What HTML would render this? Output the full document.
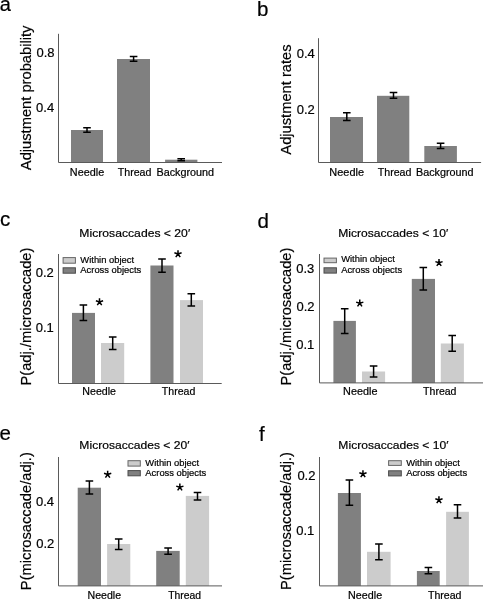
<!DOCTYPE html>
<html><head><meta charset="utf-8"><style>
html,body{margin:0;padding:0;background:#fff;width:483px;height:599px;overflow:hidden}
svg{display:block}
#w{width:483px;height:599px;will-change:transform}
text{font-family:"Liberation Sans", sans-serif;stroke:#000;stroke-width:0.2px}
</style></head><body><div id="w">
<svg width="483" height="599" viewBox="0 0 483 599">
<rect width="483" height="599" fill="#fff"/>
<text x="-0.30" y="11.40" font-size="20" fill="#000">a</text>
<text x="36.45" y="57.00" font-size="13" fill="#000">0.8</text>
<text x="36.12" y="112.00" font-size="13" fill="#000">0.4</text>
<text x="31.20" y="170.12" font-size="14.7" fill="#000" transform="rotate(-90 31.20 170.12)">Adjustment probability</text>
<rect x="71.00" y="130.00" width="32.00" height="32.50" fill="#808080"/>
<path d="M87 127.8V132.2M83.20 127.8H90.80M83.20 132.2H90.80" stroke="#000" stroke-width="1.5" fill="none"/>
<rect x="117.00" y="59.00" width="33.00" height="103.50" fill="#808080"/>
<path d="M133.6 56.5V61.2M129.80 56.5H137.40M129.80 61.2H137.40" stroke="#000" stroke-width="1.5" fill="none"/>
<rect x="165.10" y="159.70" width="32.30" height="2.80" fill="#808080"/>
<path d="M181.2 158.8V160.8M177.40 158.8H185.00M177.40 160.8H185.00" stroke="#000" stroke-width="1.5" fill="none"/>
<text x="69.88" y="176.00" font-size="10.3" textLength="34.34" lengthAdjust="spacingAndGlyphs">Needle</text>
<text x="117.74" y="176.00" font-size="10.3" textLength="33.74" lengthAdjust="spacingAndGlyphs">Thread</text>
<text x="156.49" y="176.00" font-size="10.3" textLength="57.59" lengthAdjust="spacingAndGlyphs">Background</text>
<text x="256.97" y="16.00" font-size="20.5" fill="#000">b</text>
<text x="296.72" y="58.00" font-size="13" fill="#000">0.4</text>
<text x="296.68" y="114.00" font-size="13" fill="#000">0.2</text>
<text x="290.90" y="154.62" font-size="14.7" fill="#000" transform="rotate(-90 290.90 154.62)">Adjustment rates</text>
<rect x="330.00" y="117.00" width="33.00" height="45.50" fill="#808080"/>
<path d="M346.8 112.8V120.5M343.00 112.8H350.60M343.00 120.5H350.60" stroke="#000" stroke-width="1.5" fill="none"/>
<rect x="377.00" y="95.80" width="32.30" height="66.70" fill="#808080"/>
<path d="M393.5 92.6V98.3M389.70 92.6H397.30M389.70 98.3H397.30" stroke="#000" stroke-width="1.5" fill="none"/>
<rect x="424.30" y="146.00" width="32.60" height="16.50" fill="#808080"/>
<path d="M440.6 143.3V148.5M436.80 143.3H444.40M436.80 148.5H444.40" stroke="#000" stroke-width="1.5" fill="none"/>
<text x="329.38" y="176.00" font-size="10.3" textLength="34.66" lengthAdjust="spacingAndGlyphs">Needle</text>
<text x="377.74" y="176.00" font-size="10.3" textLength="33.74" lengthAdjust="spacingAndGlyphs">Thread</text>
<text x="415.99" y="176.00" font-size="10.3" textLength="57.59" lengthAdjust="spacingAndGlyphs">Background</text>
<text x="0.08" y="225.50" font-size="20.5" fill="#000">c</text>
<text x="79.38" y="237.00" font-size="11.6" textLength="110.80" lengthAdjust="spacingAndGlyphs">Microsaccades &lt; 20′</text>
<text x="35.68" y="277.00" font-size="13" fill="#000">0.2</text>
<text x="35.68" y="332.00" font-size="13" fill="#000">0.1</text>
<text x="30.90" y="385.53" font-size="14.7" fill="#000" transform="rotate(-90 30.90 385.53)">P(adj./microsaccade)</text>
<rect x="63.10" y="257.60" width="12.30" height="5.60" fill="#cccccc" stroke="#666" stroke-width="1"/>
<rect x="63.10" y="267.80" width="12.30" height="5.40" fill="#808080" stroke="#4a4a4a" stroke-width="1"/>
<text x="80.35" y="263.00" font-size="9.4" fill="#000">Within object</text>
<text x="80.35" y="273.00" font-size="9.4" fill="#000">Across objects</text>
<rect x="72.00" y="312.90" width="23.00" height="70.60" fill="#808080"/>
<path d="M83.4 305V320.4M79.60 305H87.20M79.60 320.4H87.20" stroke="#000" stroke-width="1.5" fill="none"/>
<rect x="101.00" y="343.00" width="23.20" height="40.50" fill="#cccccc"/>
<path d="M112.7 336.9V349.4M108.90 336.9H116.50M108.90 349.4H116.50" stroke="#000" stroke-width="1.5" fill="none"/>
<path d="M99.50 302.00L99.50 298.20M99.50 302.00L103.11 300.83M99.50 302.00L95.89 300.83M99.50 302.00L101.73 305.07M99.50 302.00L97.27 305.07" stroke="#000" stroke-width="1.5" stroke-linecap="butt" fill="none"/>
<rect x="150.40" y="265.50" width="23.10" height="118.00" fill="#808080"/>
<path d="M162 259V272.2M158.20 259H165.80M158.20 272.2H165.80" stroke="#000" stroke-width="1.5" fill="none"/>
<rect x="180.00" y="300.10" width="23.00" height="83.40" fill="#cccccc"/>
<path d="M191.3 293.7V306.1M187.50 293.7H195.10M187.50 306.1H195.10" stroke="#000" stroke-width="1.5" fill="none"/>
<path d="M178.00 254.00L178.00 250.20M178.00 254.00L181.61 252.83M178.00 254.00L174.39 252.83M178.00 254.00L180.23 257.07M178.00 254.00L175.77 257.07" stroke="#000" stroke-width="1.5" stroke-linecap="butt" fill="none"/>
<text x="82.30" y="394.60" font-size="10.3" textLength="33.72" lengthAdjust="spacingAndGlyphs">Needle</text>
<text x="161.84" y="395.00" font-size="10.3" textLength="33.43" lengthAdjust="spacingAndGlyphs">Thread</text>
<text x="257.48" y="227.50" font-size="20.5" fill="#000">d</text>
<text x="338.28" y="237.00" font-size="11.6" textLength="109.99" lengthAdjust="spacingAndGlyphs">Microsaccades &lt; 10′</text>
<text x="296.21" y="273.00" font-size="13" fill="#000">0.3</text>
<text x="296.48" y="311.00" font-size="13" fill="#000">0.2</text>
<text x="296.28" y="349.00" font-size="13" fill="#000">0.1</text>
<text x="290.90" y="385.53" font-size="14.7" fill="#000" transform="rotate(-90 290.90 385.53)">P(adj./microsaccade)</text>
<rect x="324.00" y="258.10" width="12.40" height="4.60" fill="#cccccc" stroke="#666" stroke-width="1"/>
<rect x="324.00" y="267.80" width="12.40" height="5.30" fill="#808080" stroke="#4a4a4a" stroke-width="1"/>
<text x="341.15" y="262.40" font-size="9.4" fill="#000">Within object</text>
<text x="341.15" y="273.00" font-size="9.4" fill="#000">Across objects</text>
<rect x="333.40" y="320.90" width="22.50" height="62.00" fill="#808080"/>
<path d="M344.7 308.7V333.4M340.90 308.7H348.50M340.90 333.4H348.50" stroke="#000" stroke-width="1.5" fill="none"/>
<rect x="362.00" y="371.50" width="23.10" height="11.40" fill="#cccccc"/>
<path d="M373.6 365.9V376.9M369.80 365.9H377.40M369.80 376.9H377.40" stroke="#000" stroke-width="1.5" fill="none"/>
<path d="M359.75 303.30L359.75 299.50M359.75 303.30L363.36 302.13M359.75 303.30L356.14 302.13M359.75 303.30L361.98 306.37M359.75 303.30L357.52 306.37" stroke="#000" stroke-width="1.5" stroke-linecap="butt" fill="none"/>
<rect x="411.80" y="278.90" width="23.20" height="104.00" fill="#808080"/>
<path d="M423.3 267.6V290.1M419.50 267.6H427.10M419.50 290.1H427.10" stroke="#000" stroke-width="1.5" fill="none"/>
<rect x="440.80" y="343.50" width="23.10" height="39.40" fill="#cccccc"/>
<path d="M452.2 335.6V351.2M448.40 335.6H456.00M448.40 351.2H456.00" stroke="#000" stroke-width="1.5" fill="none"/>
<path d="M439.00 262.80L439.00 259.00M439.00 262.80L442.61 261.63M439.00 262.80L435.39 261.63M439.00 262.80L441.23 265.87M439.00 262.80L436.77 265.87" stroke="#000" stroke-width="1.5" stroke-linecap="butt" fill="none"/>
<text x="343.08" y="395.00" font-size="10.3" textLength="34.34" lengthAdjust="spacingAndGlyphs">Needle</text>
<text x="423.14" y="395.00" font-size="10.3" textLength="33.33" lengthAdjust="spacingAndGlyphs">Thread</text>
<text x="-0.52" y="439.50" font-size="20.5" fill="#000">e</text>
<text x="79.38" y="449.00" font-size="11.6" textLength="110.09" lengthAdjust="spacingAndGlyphs">Microsaccades &lt; 20′</text>
<text x="36.02" y="506.00" font-size="13" fill="#000">0.4</text>
<text x="36.28" y="548.00" font-size="13" fill="#000">0.2</text>
<text x="30.90" y="590.13" font-size="14.7" fill="#000" transform="rotate(-90 30.90 590.13)">P(microsaccade/adj.)</text>
<rect x="128.00" y="460.70" width="12.30" height="5.40" fill="#cccccc" stroke="#666" stroke-width="1"/>
<rect x="128.00" y="470.60" width="12.30" height="5.20" fill="#808080" stroke="#4a4a4a" stroke-width="1"/>
<text x="145.35" y="466.00" font-size="9.4" fill="#000">Within object</text>
<text x="145.35" y="476.00" font-size="9.4" fill="#000">Across objects</text>
<rect x="77.70" y="487.70" width="23.30" height="98.20" fill="#808080"/>
<path d="M89.4 481.1V494M85.60 481.1H93.20M85.60 494H93.20" stroke="#000" stroke-width="1.5" fill="none"/>
<rect x="107.10" y="544.00" width="23.20" height="41.90" fill="#cccccc"/>
<path d="M118.7 538.9V549.4M114.90 538.9H122.50M114.90 549.4H122.50" stroke="#000" stroke-width="1.5" fill="none"/>
<path d="M107.65 474.50L107.65 470.70M107.65 474.50L111.26 473.33M107.65 474.50L104.04 473.33M107.65 474.50L109.88 477.57M107.65 474.50L105.42 477.57" stroke="#000" stroke-width="1.5" stroke-linecap="butt" fill="none"/>
<rect x="156.20" y="550.90" width="23.50" height="35.00" fill="#808080"/>
<path d="M168.1 548.1V554.3M164.30 548.1H171.90M164.30 554.3H171.90" stroke="#000" stroke-width="1.5" fill="none"/>
<rect x="185.80" y="495.90" width="23.30" height="90.00" fill="#cccccc"/>
<path d="M197.5 492.6V500.1M193.70 492.6H201.30M193.70 500.1H201.30" stroke="#000" stroke-width="1.5" fill="none"/>
<path d="M179.85 487.30L179.85 483.50M179.85 487.30L183.46 486.13M179.85 487.30L176.24 486.13M179.85 487.30L182.08 490.37M179.85 487.30L177.62 490.37" stroke="#000" stroke-width="1.5" stroke-linecap="butt" fill="none"/>
<text x="87.60" y="599.00" font-size="10.3" textLength="33.51" lengthAdjust="spacingAndGlyphs">Needle</text>
<text x="168.24" y="599.00" font-size="10.3" textLength="32.82" lengthAdjust="spacingAndGlyphs">Thread</text>
<text x="258.99" y="441.20" font-size="20.5" fill="#000">f</text>
<text x="338.38" y="449.00" font-size="11.6" textLength="110.09" lengthAdjust="spacingAndGlyphs">Microsaccades &lt; 10′</text>
<text x="297.38" y="480.00" font-size="13" fill="#000">0.2</text>
<text x="296.18" y="535.00" font-size="13" fill="#000">0.1</text>
<text x="290.90" y="590.03" font-size="14.7" fill="#000" transform="rotate(-90 290.90 590.03)">P(microsaccade/adj.)</text>
<rect x="388.60" y="460.70" width="12.70" height="4.70" fill="#cccccc" stroke="#666" stroke-width="1"/>
<rect x="388.60" y="470.80" width="12.70" height="5.10" fill="#808080" stroke="#4a4a4a" stroke-width="1"/>
<text x="406.15" y="466.00" font-size="9.4" fill="#000">Within object</text>
<text x="406.15" y="476.00" font-size="9.4" fill="#000">Across objects</text>
<rect x="337.90" y="493.00" width="23.00" height="92.90" fill="#808080"/>
<path d="M349.4 480V505.3M345.60 480H353.20M345.60 505.3H353.20" stroke="#000" stroke-width="1.5" fill="none"/>
<rect x="367.00" y="551.80" width="23.60" height="34.10" fill="#cccccc"/>
<path d="M378.9 544V559.8M375.10 544H382.70M375.10 559.8H382.70" stroke="#000" stroke-width="1.5" fill="none"/>
<path d="M362.95 474.00L362.95 470.20M362.95 474.00L366.56 472.83M362.95 474.00L359.34 472.83M362.95 474.00L365.18 477.07M362.95 474.00L360.72 477.07" stroke="#000" stroke-width="1.5" stroke-linecap="butt" fill="none"/>
<rect x="416.90" y="571.00" width="22.80" height="14.90" fill="#808080"/>
<path d="M428.4 567.6V573.8M424.60 567.6H432.20M424.60 573.8H432.20" stroke="#000" stroke-width="1.5" fill="none"/>
<rect x="446.10" y="511.80" width="22.80" height="74.10" fill="#cccccc"/>
<path d="M457.5 504.7V518.1M453.70 504.7H461.30M453.70 518.1H461.30" stroke="#000" stroke-width="1.5" fill="none"/>
<path d="M438.95 500.00L438.95 496.20M438.95 500.00L442.56 498.83M438.95 500.00L435.34 498.83M438.95 500.00L441.18 503.07M438.95 500.00L436.72 503.07" stroke="#000" stroke-width="1.5" stroke-linecap="butt" fill="none"/>
<text x="348.09" y="599.00" font-size="10.3" textLength="34.03" lengthAdjust="spacingAndGlyphs">Needle</text>
<text x="427.94" y="599.00" font-size="10.3" textLength="33.54" lengthAdjust="spacingAndGlyphs">Thread</text>
<path d="M58.5 33.8V162.5H222" stroke="#5a5a5a" stroke-width="1" fill="none"/>
<path d="M318.5 38.2V162.5H481.1" stroke="#5a5a5a" stroke-width="1" fill="none"/>
<path d="M58.5 254V383.5H221.7" stroke="#5a5a5a" stroke-width="1" fill="none"/>
<path d="M319.5 254V382.9H483" stroke="#5a5a5a" stroke-width="1" fill="none"/>
<path d="M58.5 457V585.9H222" stroke="#5a5a5a" stroke-width="1" fill="none"/>
<path d="M319.5 457V585.9H483" stroke="#5a5a5a" stroke-width="1" fill="none"/>
</svg></div>
</body></html>
